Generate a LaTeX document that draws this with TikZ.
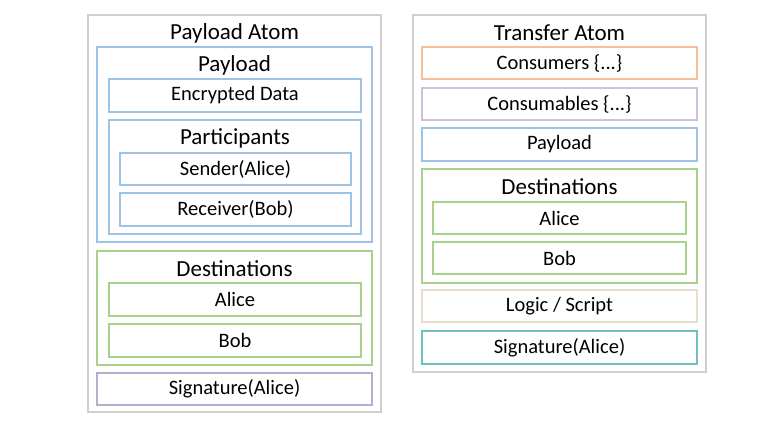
\documentclass[tikz,border=0pt]{standalone}
\usepackage{fontspec}
\setmainfont{Carlito}
\usepackage{xcolor}
\usepackage{tikz}
\usetikzlibrary{positioning}

\definecolor{outergray}{HTML}{CFCFCF}
\definecolor{payblue}{HTML}{9DC3E6}
\definecolor{destgreen}{HTML}{A9D18E}
\definecolor{sigpurple}{HTML}{B4AECF}
\definecolor{consorange}{HTML}{F6BE9A}
\definecolor{conslav}{HTML}{C9C3DD}
\definecolor{logicbeige}{HTML}{E8DCCB}
\definecolor{sigteal}{HTML}{72C0C0}

\begin{document}
\begin{tikzpicture}[
        x=1pt, y=-1pt,
        font=\fontsize{20.5}{22}\selectfont,
        % 外框与分组框
        atom/.style={draw=outergray, line width=1.3pt, rectangle, minimum width=293pt, inner sep=0pt},
        group/.style={draw=#1, line width=1.2pt, rectangle, minimum width=275pt, inner sep=0pt},
        % 普通字段框
        field/.style={draw=#1, line width=1.2pt, rectangle, minimum width=252pt, minimum height=33pt, inner sep=0pt},
        % 标题文字
        heading/.style={font=\fontsize{23}{25}\selectfont, inner sep=0pt}
    ]

    \useasboundingbox (0,0) rectangle (768,439);

    % 左侧：Payload Atom
    \node[atom, minimum height=397pt] (patom) at (234.5,213.5) {};
    \node[heading] (patomtitle) at (234.5,33) {Payload Atom};

    \node[group=payblue, minimum height=195pt] (payload) at (234.5,144.5) {};
    \node[heading] (payloadtitle) at (234.5,65) {Payload};
    \node[field=payblue] (encdata) at (235,95.5) {Encrypted Data};

    \node[field=payblue, minimum height=114pt] (parts) at (235,177) {};
    \node[heading] (partstitle) at (235,138) {Participants};
    \node[field=payblue, minimum width=231pt, minimum height=32pt] (sender) at (235.5,169) {Sender(Alice)};
    \node[field=payblue, minimum width=231pt] (receiver) at (235.5,209.5) {Receiver(Bob)};

    \node[group=destgreen, minimum height=114pt] (pdest) at (234.5,308) {};
    \node[heading] (pdesttitle) at (234.5,269) {Destinations};
    \node[field=destgreen] (palice) at (235,299.5) {Alice};
    \node[field=destgreen] (pbob) at (235,340.5) {Bob};

    \node[group=sigpurple, minimum height=32pt] (psig) at (234.5,389) {Signature(Alice)};

    % 右侧：Transfer Atom
    \node[atom, minimum height=357pt] (tatom) at (559.5,193.5) {};
    \node[heading] (tatomtitle) at (559.5,33) {Transfer Atom};

    \node[group=consorange, minimum height=32pt] (consumers) at (559.5,63) {Consumers \{...\}};
    \node[group=conslav, minimum height=32pt] (consumables) at (559.5,104) {Consumables \{...\}};
    \node[group=payblue, minimum height=33pt] (tpayload) at (559.5,144.5) {Payload};

    \node[group=destgreen, minimum height=114pt] (tdest) at (559.5,226) {};
    \node[heading] (tdesttitle) at (559.5,187) {Destinations};
    \node[field=destgreen, minimum width=253pt, minimum height=32pt] (talice) at (559.5,218) {Alice};
    \node[field=destgreen, minimum width=253pt, minimum height=32pt] (tbob) at (559.5,258) {Bob};

    \node[group=logicbeige, minimum height=32pt] (logic) at (559.5,306) {Logic / Script};
    \node[group=sigteal, minimum height=33pt] (tsig) at (559.5,347.5) {Signature(Alice)};

\end{tikzpicture}
\end{document}
